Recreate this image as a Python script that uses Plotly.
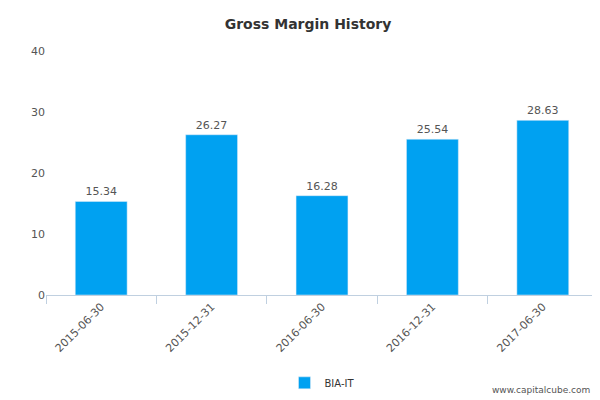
import plotly.graph_objects as go

# Data
periods = ['2015-06-30', '2015-12-31', '2016-06-30', '2016-12-31', '2017-06-30']
gross_margin = [15.34, 26.27, 16.28, 25.54, 28.63]
series_name = 'BIA-IT'

fig = go.Figure()

fig.add_trace(go.Bar(
    x=periods,
    y=gross_margin,
    name=series_name,
    marker=dict(color='#00A1F1'),
    width=0.47,
    text=[f'{v:.2f}' for v in gross_margin],
    textposition='outside',
    textfont=dict(size=11, color='#555555'),
    cliponaxis=False,
))

fig.update_layout(
    width=600, height=400,
    margin=dict(l=38, r=10, t=43, b=113, autoexpand=False),
    plot_bgcolor='white', paper_bgcolor='white',
    font=dict(family='DejaVu Sans', size=11, color='#555555'),
    title=dict(text='<b>Gross Margin History</b>', x=0.5, xanchor='center',
               y=0.96, yanchor='middle', font=dict(size=14, color='#333333')),
    showlegend=True,
    legend=dict(orientation='h', x=0.5, xanchor='center', y=-0.36, yanchor='middle',
                font=dict(size=10, color='#333333')),
    bargap=0.5,
)

fig.update_yaxes(range=[0, 40], dtick=10, showgrid=False, zeroline=False,
                 showline=False, ticks='', tickfont=dict(size=11, color='#555555'))
fig.update_xaxes(type='category', showline=True, linecolor='#C0D0E0', ticks='outside',
                 tickson='boundaries', tickcolor='#C0D0E0', ticklen=8, tickangle=-45,
                 tickfont=dict(size=11, color='#555555'))

fig.add_annotation(text='www.capitalcube.com', xref='paper', yref='paper',
                   x=0.99, y=-0.39, xanchor='right', yanchor='middle', showarrow=False,
                   font=dict(size=9, color='#555555'))

fig.write_html("out.html")
